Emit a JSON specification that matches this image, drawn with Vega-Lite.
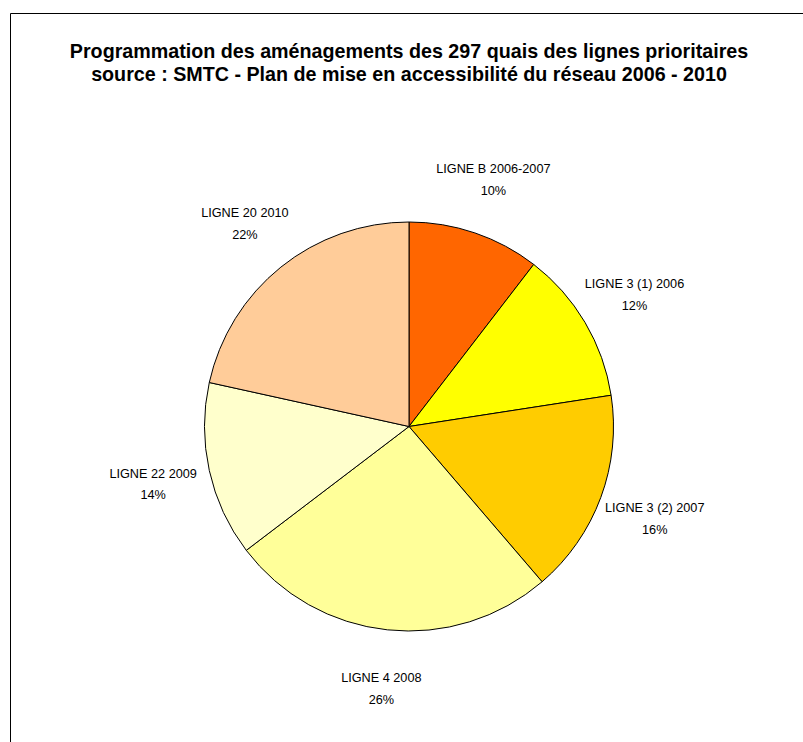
{
  "$schema": "https://vega.github.io/schema/vega-lite/v6.json",
  "width": 798,
  "height": 827,
  "autosize": {"type": "none"},
  "padding": {"left": 10, "top": 13, "right": 0, "bottom": 0},
  "background": "white",
  "view": {"stroke": "black", "strokeWidth": 1, "fill": "white"},
  "config": {"view": {"stroke": "black", "strokeWidth": 1}, "font": "Liberation Sans"},
  "title": {
    "text": ["Programmation des aménagements des 297 quais des lignes prioritaires", "source : SMTC  - Plan de mise en accessibilité du réseau 2006 - 2010"],
    "font": "Liberation Sans",
    "fontSize": 19.7,
    "fontWeight": "bold",
    "color": "black",
    "lineHeight": 23,
    "anchor": "middle",
    "offset": -72
  },
  "data": {
    "values": [
      {"ligne": "LIGNE B 2006-2007", "quais": 31},
      {"ligne": "LIGNE 3 (1) 2006", "quais": 36},
      {"ligne": "LIGNE 3 (2) 2007", "quais": 48},
      {"ligne": "LIGNE 4 2008", "quais": 77},
      {"ligne": "LIGNE 22 2009", "quais": 41},
      {"ligne": "LIGNE 20 2010", "quais": 64}
    ]
  },
  "transform": [
    {"window": [{"op": "row_number", "as": "idx"}]},
    {"joinaggregate": [{"op": "sum", "field": "quais", "as": "total"}]},
    {"calculate": "datum.ligne + '\\n' + round(datum.quais / datum.total * 100) + '%'", "as": "label"}
  ],
  "encoding": {
    "theta": {"field": "quais", "type": "quantitative", "stack": true},
    "order": {"field": "idx", "type": "quantitative"}
  },
  "layer": [
    {
      "mark": {"type": "arc", "outerRadius": 204.5, "stroke": "black", "strokeWidth": 1},
      "encoding": {
        "color": {
          "field": "ligne",
          "type": "nominal",
          "scale": {
            "domain": ["LIGNE B 2006-2007", "LIGNE 3 (1) 2006", "LIGNE 3 (2) 2007", "LIGNE 4 2008", "LIGNE 22 2009", "LIGNE 20 2010"],
            "range": ["#FF6600", "#FFFF00", "#FFCC00", "#FFFF99", "#FFFFCC", "#FFCC99"]
          },
          "legend": null
        }
      }
    },
    {
      "mark": {"type": "text", "radius": 262, "fontSize": 12.7, "lineBreak": "\n", "lineHeight": 21.5, "align": "center", "baseline": "middle", "dy": -9, "color": "black", "font": "Liberation Sans"},
      "encoding": {
        "text": {"field": "label", "type": "nominal"},
        "detail": {"field": "ligne", "type": "nominal"}
      }
    }
  ]
}
